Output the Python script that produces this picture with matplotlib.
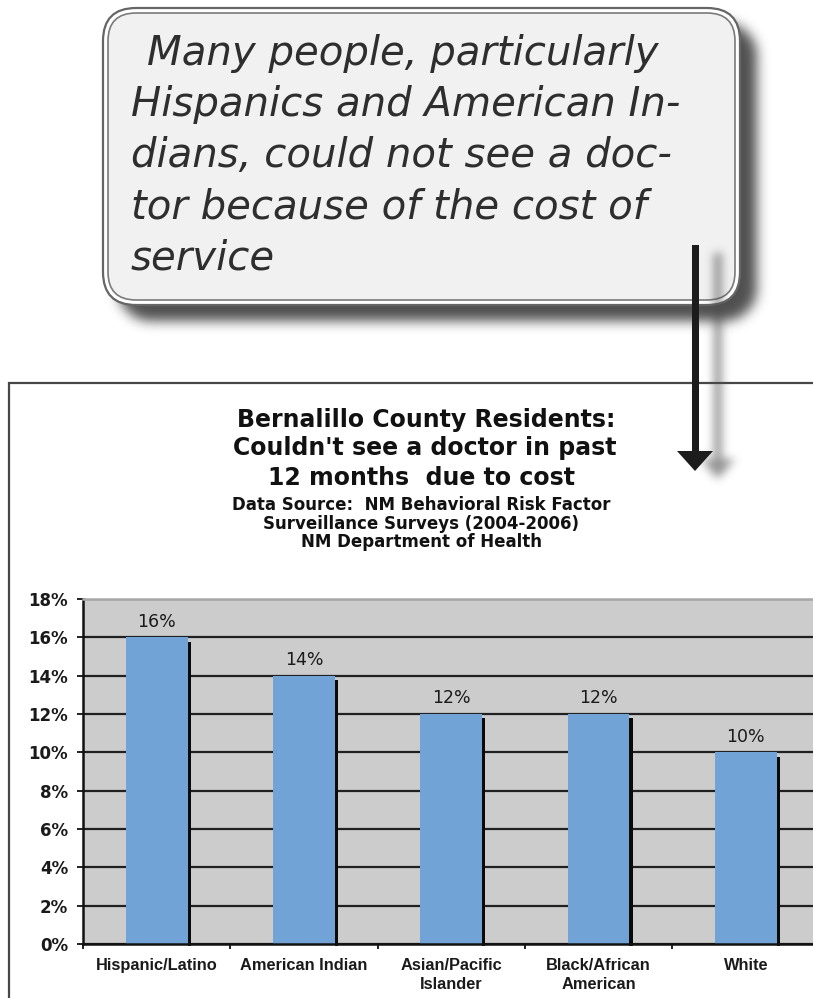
import numpy as np
import matplotlib
matplotlib.use("Agg")
import matplotlib.pyplot as plt
from matplotlib.patches import FancyBboxPatch, Rectangle, Polygon
from matplotlib import font_manager

# ---- data -------------------------------------------------------------
categories = ["Hispanic/Latino", "American Indian", "Asian/Pacific\nIslander",
              "Black/African\nAmerican", "White"]
pct_unable = [0.16, 0.14, 0.12, 0.12, 0.10]
y_ticks = [0.00, 0.02, 0.04, 0.06, 0.08, 0.10, 0.12, 0.14, 0.16, 0.18]
y_tick_labels = ["0%", "2%", "4%", "6%", "8%", "10%", "12%", "14%", "16%", "18%"]

title_lines = ["Bernalillo County Residents:",
               "Couldn't see a doctor in past",
               "12 months  due to cost"]
source_lines = ["Data Source:  NM Behavioral Risk Factor",
                "Surveillance Surveys (2004-2006)",
                "NM Department of Health"]
callout_lines = ["Many people, particularly",
                 "Hispanics and American In-",
                 "dians, could not see a doc-",
                 "tor because of the cost of",
                 "service"]

# ---- fonts ------------------------------------------------------------
installed = {f.name for f in font_manager.fontManager.ttflist}
label_font = "Liberation Sans" if "Liberation Sans" in installed else "DejaVu Sans"

W, H = 813, 998
fig = plt.figure(figsize=(W / 100, H / 100), dpi=100)
fig.patch.set_facecolor("white")

# full-figure overlay in pixel units (y grows downward)
ov = fig.add_axes([0, 0, 1, 1])
ov.set_xlim(0, W)
ov.set_ylim(H, 0)
ov.axis("off")
ov.set_zorder(0)

yy, xx = np.mgrid[0:H, 0:W] + 0.5


def rrect_mask(x0, y0, x1, y1, r):
    dx = np.maximum(np.maximum(x0 + r - xx, xx - (x1 - r)), 0)
    dy = np.maximum(np.maximum(y0 + r - yy, yy - (y1 - r)), 0)
    inside = (xx >= x0) & (xx <= x1) & (yy >= y0) & (yy <= y1)
    return (inside & (dx ** 2 + dy ** 2 <= r ** 2)).astype(float)


def arrow_mask(xc, y_top, y_base, y_tip, half_shaft, half_head):
    shaft = (np.abs(xx - xc) <= half_shaft) & (yy >= y_top) & (yy <= y_base)
    frac = np.clip((y_tip - yy) / (y_tip - y_base), 0, 1)
    head = (yy >= y_base) & (yy <= y_tip) & (np.abs(xx - xc) <= half_head * frac)
    return (shaft | head).astype(float)


def blur(a, sigma):
    n = int(3 * sigma)
    t = np.arange(-n, n + 1)
    k = np.exp(-t ** 2 / (2 * sigma ** 2))
    k /= k.sum()
    a = np.apply_along_axis(lambda m: np.convolve(m, k, mode="same"), 1, a)
    a = np.apply_along_axis(lambda m: np.convolve(m, k, mode="same"), 0, a)
    return a


def shadow_image(alpha, grey, z):
    rgba = np.zeros((H, W, 4))
    rgba[..., :3] = grey
    rgba[..., 3] = np.clip(alpha, 0, 1)
    ov.imshow(rgba, extent=(0, W, H, 0), origin="upper", zorder=z,
              interpolation="bilinear", aspect="auto")


# chart frame
ov.add_patch(Rectangle((9, 383), 900, 700, facecolor="white",
                       edgecolor="#474747", lw=1.6, zorder=1, clip_on=False))

# title block
for line, base, cx in zip(title_lines, [427, 455, 485], [426, 425, 421]):
    ov.text(cx, base, line, ha="center", va="baseline", fontsize=17,
            fontweight="bold", family="DejaVu Sans", color="#111111", zorder=3)
for line, base in zip(source_lines, [510, 529, 547]):
    ov.text(421, base, line, ha="center", va="baseline", fontsize=12,
            fontweight="bold", family="DejaVu Sans", color="#111111", zorder=3)

# callout box with drop shadow
bx0, by0, bx1, by1, rad = 103, 8, 740, 305, 33
box_shadow = blur(rrect_mask(bx0 + 15, by0 + 15, bx1 + 16, by1 + 16, rad), 6) * 0.88
shadow_image(box_shadow, 0.22, 2)
ov.add_patch(FancyBboxPatch((bx0, by0), bx1 - bx0, by1 - by0,
                            boxstyle=f"round,pad=0,rounding_size={rad}",
                            facecolor="white", edgecolor="#666666", lw=1.6, zorder=3))
ov.add_patch(FancyBboxPatch((bx0 + 5, by0 + 5), bx1 - bx0 - 10, by1 - by0 - 10,
                            boxstyle=f"round,pad=0,rounding_size={rad - 5}",
                            facecolor="#f1f1f1", edgecolor="#7a7a7a", lw=1.2, zorder=3))

for i, (line, base) in enumerate(zip(callout_lines, [65, 116, 167, 218, 269])):
    ov.text(147 if i == 0 else 131, base, line, ha="left", va="baseline",
            fontsize=29, style="italic", family="DejaVu Sans",
            color="#2e2e2e", zorder=4)

# pointer arrow with soft shadow
ax_c, a_top, a_base, a_tip = 695, 245, 451, 471
arr_shadow = blur(arrow_mask(ax_c + 22, a_top + 8, a_base + 8, a_tip + 8, 4, 17), 4.5) * 0.6
shadow_image(arr_shadow, 0.30, 5)
ov.add_patch(Rectangle((ax_c - 3.5, a_top), 7, a_base - a_top + 2,
                       facecolor="#1c1c1c", edgecolor="none", zorder=6))
ov.add_patch(Polygon([(ax_c - 18, a_base), (ax_c + 18, a_base), (ax_c, a_tip)],
                     closed=True, facecolor="#1c1c1c", edgecolor="none", zorder=6))

# ---- bar chart --------------------------------------------------------
left_px, right_px, top_px, bot_px = 83, 819.5, 599, 944
ax = fig.add_axes([left_px / W, (H - bot_px) / H,
                   (right_px - left_px) / W, (bot_px - top_px) / H])
ax.set_zorder(1)
ax.set_facecolor("#cccccc")

x = np.arange(len(categories))
vals = np.array(pct_unable)
bar_w = 0.42
edge_w = 0.022
ax.set_xlim(-0.5, len(categories) - 0.5)
ax.set_ylim(0, 0.18)

ax.bar(x, vals, width=bar_w, color="#72a3d6", zorder=2)
# dark edge shadow along the right side of each bar
ax.bar(x + bar_w / 2 + edge_w / 2, vals - 0.001, bottom=-0.0012, width=edge_w,
       color="#0a0a0a", zorder=2, clip_on=False)

for xi, v in zip(x, vals):
    ax.annotate(f"{v:.0%}", (xi, v), xytext=(0, 11.3), textcoords="offset points",
                ha="center", va="center", fontsize=12.5, family="DejaVu Sans",
                color="#1a1a1a")

ax.set_axisbelow(True)
ax.yaxis.grid(True, color="#202020", lw=1.6)
ax.set_yticks(y_ticks)
ax.set_yticklabels(y_tick_labels, fontsize=12, fontweight="bold", color="#1a1a1a")
ax.tick_params(axis="y", direction="out", length=4.3, width=1.4, pad=6.5, color="#202020")

ax.set_xticks(np.arange(len(categories) + 1) - 0.5)
ax.set_xticklabels([])
ax.set_xticks(x, minor=True)
ax.set_xticklabels(categories, minor=True, fontsize=11.8, fontweight="bold",
                   family=label_font, color="#1a1a1a")
for lab in ax.get_xticklabels(minor=True):
    lab.set_linespacing(1.38)
ax.tick_params(axis="x", which="major", direction="out", length=3.6, width=1.4,
               color="#202020")
ax.tick_params(axis="x", which="minor", length=0, pad=9.8)

for side in ("left", "bottom"):
    ax.spines[side].set_color("#111111")
    ax.spines[side].set_linewidth(1.8)
ax.spines["top"].set_color("#a8a8a8")
ax.spines["top"].set_linewidth(1.8)
ax.spines["top"].set_zorder(3)
ax.spines["right"].set_visible(False)

fig.savefig("out.png", dpi=100, facecolor="white")
